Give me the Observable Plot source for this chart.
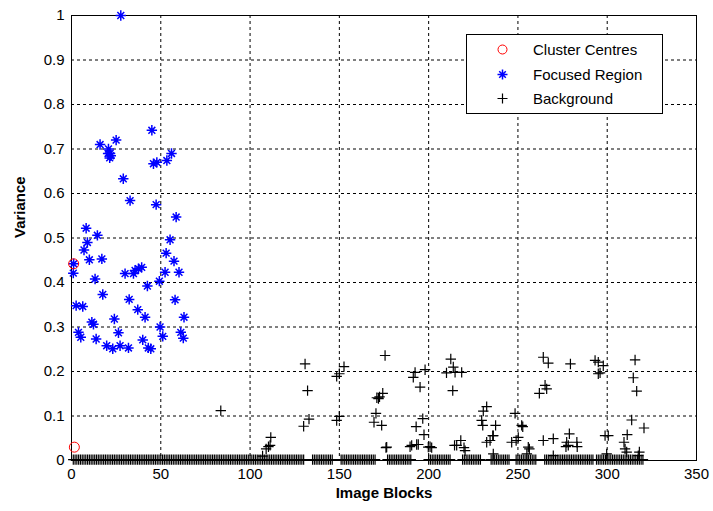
<!DOCTYPE html>
<html>
<head>
<meta charset="utf-8">
<script src="https://cdn.jsdelivr.net/npm/d3@7"></script>
<script src="https://cdn.jsdelivr.net/npm/@observablehq/plot@0.6"></script>
<style>
  html, body { margin: 0; padding: 0; background: #fff; }
  #wrap { position: relative; width: 713px; height: 511px; }
  #legend { position: absolute; left: 0; top: 0; pointer-events: none; }
</style>
</head>
<body>
<div id="wrap"></div>
<script>
// ---- data ----
const xTicks = [0, 50, 100, 150, 200, 250, 300, 350];
const yTicks = [0, 0.1, 0.2, 0.3, 0.4, 0.5, 0.6, 0.7, 0.8, 0.9, 1];
const yTickLabels = ["0", "0.1", "0.2", "0.3", "0.4", "0.5", "0.6", "0.7", "0.8", "0.9", "1"];
const seriesNames = ["Cluster Centres", "Focused Region", "Background"];

const centresX = [1.2, 1.6];
const centresY = [0.442, 0.03];

const focusedX = [45, 25, 16, 20.7, 21.6, 22, 20.5, 21.4, 56, 53.4, 47.8, 45.9, 29, 32.8, 47.4, 58.6, 8.2, 14.5, 8.9, 55.2, 7, 53, 10, 17, 57.4, 1.2, 1, 13.2, 30, 34.7, 35.6, 37.5, 39.3, 52.4, 60.2, 49.2, 42.5, 17.5, 2.6, 6.3, 32.3, 58, 37.1, 41.2, 24, 63, 11.4, 12.3, 49.6, 3.9, 5.2, 26.3, 51.1, 61.2, 62.6, 13.8, 19.7, 23.1, 27.2, 31.9, 39.9, 43, 44.4, 27.6];
const focusedY = [0.742, 0.72, 0.71, 0.70, 0.69, 0.685, 0.69, 0.68, 0.69, 0.674, 0.67, 0.667, 0.633, 0.584, 0.575, 0.547, 0.522, 0.506, 0.49, 0.496, 0.473, 0.466, 0.451, 0.453, 0.448, 0.442, 0.421, 0.408, 0.42, 0.42, 0.427, 0.431, 0.434, 0.423, 0.423, 0.403, 0.392, 0.373, 0.348, 0.346, 0.362, 0.361, 0.339, 0.322, 0.318, 0.322, 0.311, 0.306, 0.30, 0.288, 0.277, 0.287, 0.279, 0.288, 0.275, 0.273, 0.258, 0.251, 0.258, 0.253, 0.271, 0.253, 0.251, 1.0];

const bgX = [83.6, 111.6, 110.3, 109, 107, 130.8, 132.2, 133, 130, 152.6, 150, 148.5, 150, 148.5, 175.6, 174.3, 171.9, 171, 172.5, 170.5, 169.4, 173.7, 176.1, 192.4, 191.4, 198, 195.2, 196.7, 193, 197.4, 189.6, 193.3, 199.8, 201.7, 212.4, 213.8, 210, 214.8, 218.5, 213.5, 232.5, 230.6, 229.7, 230.3, 237.5, 248.4, 252.1, 236.2, 234.4, 232.5, 250.2, 249, 246.5, 218, 215.7, 219.8, 264.2, 269.8, 278.8, 277.3, 255.8, 264.2, 267, 279.4, 265.2, 266.1, 262, 293.2, 295, 297.8, 296, 295, 315.6, 314.6, 316.5, 313.7, 320.6, 311.2, 309.4, 310, 298.8, 300.6, 276.9, 283.2, 283, 256.4, 252.7, 235.9, 318, 176.5, 190.5, 194.2, 200.8, 214.5, 220.4, 236.2, 255, 278.2, 299.7, 310.9, 317.4, 269.8, 111.2];
const bgY = [0.112, 0.052, 0.031, 0.026, 0.01, 0.217, 0.157, 0.093, 0.077, 0.211, 0.195, 0.189, 0.099, 0.09, 0.236, 0.151, 0.139, 0.141, 0.143, 0.106, 0.086, 0.079, 0.029, 0.198, 0.187, 0.204, 0.165, 0.094, 0.076, 0.058, 0.031, 0.036, 0.03, 0.029, 0.228, 0.21, 0.197, 0.198, 0.198, 0.157, 0.121, 0.111, 0.09, 0.079, 0.079, 0.106, 0.079, 0.056, 0.045, 0.041, 0.052, 0.045, 0.041, 0.045, 0.034, 0.029, 0.045, 0.049, 0.06, 0.041, 0.03, 0.232, 0.219, 0.217, 0.169, 0.161, 0.151, 0.225, 0.221, 0.213, 0.197, 0.195, 0.226, 0.186, 0.156, 0.091, 0.073, 0.058, 0.041, 0.026, 0.056, 0.056, 0.031, 0.031, 0.041, 0.026, 0.076, 0.056, 0.019, 0.03, 0.034, 0.036, 0.031, 0.034, 0.022, 0.015, 0.015, 0.034, 0.015, 0.019, 0.011, 0.011, 0.034];

// background blocks with (near) zero variance
const bgZeroX = [1,2,3,4,5,6,7,8,9,10,11,12,13,14,15,16,17,18,19,20,21,22,23,24,25,26,27,28,29,30,31,32,33,34,35,36,37,38,39,40,41,42,43,44,45,46,47,48,49,50,51,52,53,54,55,56,57,58,59,60,61,62,63,64,65,66,67,68,69,70,71,72,73,74,75,76,77,78,79,80,81,82,83,84,85,86,87,88,89,90,91,92,93,94,95,96,97,98,99,100,101,102,103,104,105,106,107,108,109,110,111,112,113,114,115,116,117,118,119,120,121,122,123,124,125,126,127,128,129,130,
  135,136,137,138,139,140,141,142,143,144,145,146,
  151,152,153,154,155,156,157,158,159,160,161,162,163,164,165,166,167,168,169,170,
  177,178,179,180,181,182,183,184,185,186,187,188,189,190,
  200,201,202,203,204,205,206,207,208,209,210,211,212,
  219,220,221,222,223,224,225,226,227,228,229,
  235,236,237,238,239,240,241,242,243,244,245,
  249,250,251,252,253,254,255,256,257,258,259,260,
  265,266,267,268,269,270,271,272,273,274,275,276,277,278,279,280,281,282,283,284,285,286,287,288,289,290,291,292,
  294,295,296,297,298,299,300,301,302,303,304,305,306,307,308,309,310,311,312,313,314,315,316,317,318,319,320];
const bgZeroValue = 0.002;

// ---- build tables ----
const centres = centresX.map((x, i) => ({x, y: centresY[i]}));
const focused = focusedX.map((x, i) => ({x, y: focusedY[i]}));
const background = bgX.map((x, i) => ({x, y: bgY[i]}))
  .concat(bgZeroX.map(x => ({x, y: bgZeroValue})));

// custom MATLAB-like markers
const plusSymbol = {
  draw(ctx, size) {
    const r = Math.sqrt(size / Math.PI);
    ctx.moveTo(-r, 0); ctx.lineTo(r, 0);
    ctx.moveTo(0, -r); ctx.lineTo(0, r);
  }
};
const starSymbol = {
  draw(ctx, size) {
    const r = Math.sqrt(size / Math.PI);
    const d = r * 0.66;
    ctx.moveTo(-r, 0); ctx.lineTo(r, 0);
    ctx.moveTo(0, -r); ctx.lineTo(0, r);
    ctx.moveTo(-d, -d); ctx.lineTo(d, d);
    ctx.moveTo(-d, d); ctx.lineTo(d, -d);
  }
};

const font = "'Liberation Sans', Arial, sans-serif";

const chart = Plot.plot({
  width: 713,
  height: 511,
  marginLeft: 71,
  marginRight: 17,
  marginTop: 15,
  marginBottom: 51,
  style: {fontFamily: font, fontSize: "15px", background: "#fff", color: "#000", overflow: "visible"},
  x: {domain: [0, 350]},
  y: {domain: [0, 1]},
  marks: [
    Plot.gridX(xTicks, {stroke: "#000", strokeOpacity: 1, strokeDasharray: "3,3"}),
    Plot.gridY(yTicks, {stroke: "#000", strokeOpacity: 1, strokeDasharray: "3,3"}),
    Plot.frame({stroke: "#000", strokeWidth: 1}),
    Plot.axisX(xTicks, {tickSize: 0, tickPadding: 8, label: null, fontSize: 15}),
    Plot.axisY(yTicks, {tickSize: 0, tickPadding: 7, label: null, fontSize: 15,
      tickFormat: (d, i) => yTickLabels[i]}),
    Plot.dot(background, {x: "x", y: "y", symbol: plusSymbol, r: 5.2, stroke: "#000", strokeWidth: 1.2, fill: "none"}),
    Plot.dot(focused, {x: "x", y: "y", symbol: starSymbol, r: 5.2, stroke: "#0000ff", strokeWidth: 1.5, fill: "none"}),
    Plot.dot(centres, {x: "x", y: "y", r: 5, stroke: "#ff0000", strokeWidth: 1, fill: "none"}),
    Plot.text(["Image Blocks"], {frameAnchor: "bottom", dy: 33, text: d => d, fontWeight: "bold", fontSize: 15, lineAnchor: "middle"}),
    Plot.text(["Variance"], {frameAnchor: "left", dx: -51, text: d => d, rotate: -90, fontWeight: "bold", fontSize: 15, lineAnchor: "middle"})
  ]
});
document.getElementById("wrap").appendChild(chart);

// ---- legend overlay ----
const ns = "http://www.w3.org/2000/svg";
const leg = document.createElementNS(ns, "svg");
leg.setAttribute("id", "legend");
leg.setAttribute("width", 713);
leg.setAttribute("height", 511);
const lx = 466, ly = 34, lw = 196, lh = 79;
leg.innerHTML = `<rect x="${lx + 0.5}" y="${ly + 0.5}" width="${lw}" height="${lh}" fill="#fff" stroke="#000" stroke-width="1"/>`;
const rows = [15.5, 40.5, 64.5];
const symX = lx + 36.5;
// circle
leg.innerHTML += `<circle cx="${symX}" cy="${ly + rows[0]}" r="4.5" fill="none" stroke="#ff0000"/>`;
// star
{
  const cy = ly + rows[1], r = 5, d = r * 0.66;
  leg.innerHTML += `<path d="M${symX - r},${cy}H${symX + r}M${symX},${cy - r}V${cy + r}M${symX - d},${cy - d}L${symX + d},${cy + d}M${symX - d},${cy + d}L${symX + d},${cy - d}" stroke="#0000ff" stroke-width="1.5" fill="none"/>`;
}
// plus
{
  const cy = ly + rows[2], r = 5;
  leg.innerHTML += `<path d="M${symX - r},${cy}H${symX + r}M${symX},${cy - r}V${cy + r}" stroke="#000" stroke-width="1.2" fill="none"/>`;
}
seriesNames.forEach((name, i) => {
  const t = document.createElementNS(ns, "text");
  t.setAttribute("x", lx + 67);
  t.setAttribute("y", ly + rows[i]);
  t.setAttribute("dy", "0.36em");
  t.setAttribute("font-family", font);
  t.setAttribute("font-size", "15");
  t.textContent = name;
  leg.appendChild(t);
});
document.getElementById("wrap").appendChild(leg);
</script>
</body>
</html>
